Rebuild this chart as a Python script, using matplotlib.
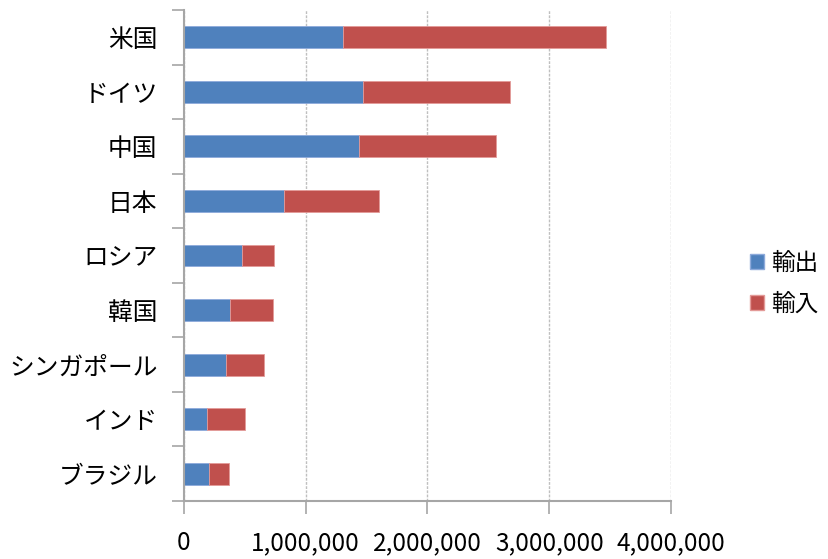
import matplotlib
matplotlib.use("Agg")
import matplotlib.pyplot as plt
from matplotlib.patches import Patch
from matplotlib.ticker import FuncFormatter, FixedLocator
import numpy as np

plt.rcParams['font.family'] = ['Noto Sans CJK JP', 'DejaVu Sans']

# Trade value by country (export / import)
countries = ["米国", "ドイツ", "中国", "日本", "ロシア", "韓国", "シンガポール", "インド", "ブラジル"]
exports = [1306000, 1473000, 1438000, 819000, 476000, 380000, 345000, 189000, 208000]
imports = [2162000, 1203000, 1123000, 783000, 263000, 348000, 315000, 312000, 164000]
series_names = ["輸出", "輸入"]
x_ticks = [0, 1000000, 2000000, 3000000, 4000000]

blue = "#4F81BD"
red = "#C0504D"
axis_gray = "#A6A6A6"

fig = plt.figure(figsize=(8.29, 5.59), dpi=100)
ax = fig.add_axes([184 / 829, 1 - 501 / 559, (671 - 184) / 829, (501 - 10) / 559])

y = np.arange(len(countries))
ax.barh(y, exports, height=0.4, color=blue, edgecolor="#8EAADB", linewidth=0.6, zorder=3)
ax.barh(y, imports, left=exports, height=0.4, color=red, edgecolor="#E39A98", linewidth=0.6, zorder=3)

ax.set_ylim(len(countries) - 0.5, -0.5)
ax.set_xlim(x_ticks[0], x_ticks[-1])

# category boundaries carry the tick marks, labels sit at the centres
ax.yaxis.set_major_locator(FixedLocator(np.arange(-0.5, len(countries), 1.0)))
ax.yaxis.set_major_formatter(FuncFormatter(lambda v, p: ""))
ax.yaxis.set_minor_locator(FixedLocator(y))
ax.set_yticklabels(countries, minor=True, fontsize=17.8)
ax.tick_params(axis="y", which="major", direction="out", length=9, width=1.2, color=axis_gray)
ax.tick_params(axis="y", which="minor", length=0, pad=19)

ax.set_xticks(x_ticks)
ax.xaxis.set_major_formatter(FuncFormatter(lambda v, p: f"{int(v):,}"))
ax.tick_params(axis="x", direction="out", length=9, width=1.2, color=axis_gray, pad=12, labelsize=17.5)

ax.grid(axis="x", color="#BFBFBF", linestyle=(0, (2, 1)), linewidth=1.0, zorder=0)
for s in ("top", "right"):
    ax.spines[s].set_visible(False)
for s in ("left", "bottom"):
    ax.spines[s].set_color(axis_gray)
    ax.spines[s].set_linewidth(1.5)
    ax.spines[s].set_zorder(4)

handles = [Patch(facecolor=blue, edgecolor="#8EAADB"), Patch(facecolor=red, edgecolor="#E39A98")]
fig.legend(handles, series_names, loc="center left", bbox_to_anchor=(750 / 829, 1 - 284 / 559),
           frameon=False, fontsize=17, handlelength=0.6, handleheight=0.6,
           handletextpad=0.3, labelspacing=0.75, borderpad=0, borderaxespad=0)

fig.savefig("out.png", dpi=100)
